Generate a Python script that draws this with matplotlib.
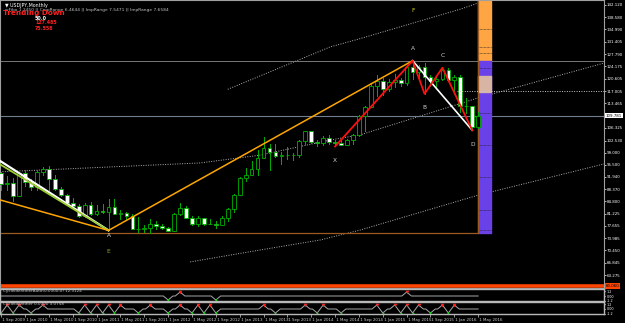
import matplotlib
matplotlib.use("Agg")
import matplotlib.pyplot as plt
import matplotlib.transforms as mtransforms
import numpy as np

# USDJPY monthly candles, 1 Sep 2009 .. 1 May 2016
opens = [93.0, 89.8, 90.1, 86.4, 93.0, 90.3, 88.9, 93.4, 94.1, 91.3, 88.4, 86.5,
         84.2, 83.5, 80.4, 83.7, 81.1, 82.1, 81.8, 83.1, 81.2, 81.5, 80.5, 76.7,
         76.6, 77.0, 78.2, 77.6, 76.9, 76.2, 81.2, 82.8, 80.0, 78.3, 79.8, 78.1,
         78.3, 77.9, 79.8, 82.5, 86.7, 91.7, 92.6, 94.2, 97.4, 100.5, 99.2, 97.9,
         98.2, 98.2, 98.4, 102.4, 105.3, 102.0, 101.8, 103.2, 102.2, 101.8, 101.3, 102.8,
         104.1, 109.7, 112.3, 118.6, 119.8, 117.5, 119.6, 120.1, 119.4, 124.1, 122.5, 123.9,
         121.2, 119.9, 120.6, 123.1, 120.2, 121.1, 112.7, 112.6, 106.5]
highs = [93.4, 92.3, 91.6, 93.1, 93.8, 91.3, 93.8, 94.8, 95.0, 92.4, 88.9, 86.9,
         85.9, 84.0, 84.4, 84.5, 83.7, 83.9, 85.5, 85.5, 82.2, 81.6, 81.0, 80.2,
         77.9, 79.5, 79.1, 78.3, 77.2, 81.3, 84.2, 83.3, 80.5, 80.6, 79.9, 79.7,
         78.9, 80.4, 82.8, 86.8, 91.8, 94.4, 96.7, 99.9, 103.7, 101.5, 101.5, 99.2,
         100.6, 99.0, 102.6, 105.4, 105.4, 102.8, 103.8, 104.1, 102.7, 102.8, 103.1, 104.5,
         110.1, 112.5, 119.0, 121.8, 120.8, 120.5, 122.0, 120.8, 124.5, 125.86, 124.6, 125.3,
         121.7, 121.5, 123.8, 123.7, 121.7, 121.7, 114.9, 112.7, 111.0]
lows = [88.2, 88.0, 84.8, 86.3, 89.2, 88.2, 88.1, 92.5, 88.0, 88.2, 86.3, 83.6,
        82.9, 80.2, 80.2, 80.9, 80.9, 81.5, 76.3, 81.1, 79.6, 79.7, 76.6, 75.9,
        75.9, 75.56, 76.7, 76.6, 76.0, 76.1, 80.9, 79.8, 78.0, 77.7, 77.9, 78.1,
        77.1, 77.8, 79.1, 81.7, 86.5, 90.8, 92.5, 92.6, 97.3, 93.8, 97.6, 95.8,
        97.1, 96.9, 97.6, 101.6, 101.8, 100.8, 101.2, 101.4, 100.8, 101.1, 101.1, 101.5,
        103.9, 105.2, 112.3, 115.6, 115.9, 116.9, 118.3, 118.5, 118.9, 120.4, 120.4, 116.2,
        118.6, 118.1, 120.3, 119.9, 116.0, 111.0, 110.7, 105.55, 106.3]
closes = [89.8, 90.1, 86.4, 93.0, 90.3, 88.9, 93.4, 94.1, 91.3, 88.4, 86.5, 84.2,
          83.5, 80.4, 83.7, 81.1, 82.1, 81.8, 83.1, 81.2, 81.5, 80.5, 76.7, 76.6,
          77.0, 78.2, 77.6, 76.9, 76.2, 81.2, 82.8, 80.0, 78.3, 79.8, 78.1, 78.3,
          77.9, 79.8, 82.5, 86.7, 91.7, 92.6, 94.2, 97.4, 100.5, 99.2, 97.9, 98.2,
          98.2, 98.4, 102.4, 105.3, 102.0, 101.8, 103.2, 102.2, 101.8, 101.3, 102.8, 104.1,
          109.7, 112.3, 118.6, 119.8, 117.5, 119.6, 120.1, 119.4, 124.1, 122.5, 123.9, 121.2,
          119.9, 120.6, 123.1, 120.2, 121.1, 112.7, 112.6, 106.5, 109.781]

date_labels = ["1 Sep 2009", "1 Jan 2010", "1 May 2010", "1 Sep 2010", "1 Jan 2011",
               "1 May 2011", "1 Sep 2011", "1 Jan 2012", "1 May 2012", "1 Sep 2012",
               "1 Jan 2013", "1 May 2013", "1 Sep 2013", "1 Jan 2014", "1 May 2014",
               "1 Sep 2014", "1 Jan 2015", "1 May 2015", "1 Sep 2015", "1 Jan 2016",
               "1 May 2016"]
date_pos = list(range(0, 81, 4))

price_ticks = [142.120, 138.580, 134.990, 131.405, 127.790, 124.175, 120.605, 117.005,
               113.465, 106.325, 102.530, 99.000, 95.500, 91.940, 88.370, 84.800,
               81.225, 77.655, 73.985, 70.450, 66.845, 63.275]
last_price = 109.781
line_price = 60.06

# XABCD pattern
pat_x = [56, 69, 71, 74, 79]
pat_y = [100.8, 125.86, 116.2, 123.8, 105.55]
pat_names = ["X", "A", "B", "C", "D"]

# swing line (orange) and down trendlines on the left
swing_x = [-0.2, 18, 69]
swing_y = [85.2, 76.3, 125.86]
trend_x = [-0.2, 18]
trend_white_y = [96.6, 76.3]
trend_lime_y = [95.6, 76.3]

# dotted channel curves
chan_top_x = [38.0, 55.2, 59.4, 77.0, 80.0, 84.0]
chan_top_y = [117.5, 129.9, 131.9, 140.9, 142.7, 144.5]
chan_mid_x = [-0.2, 33.4, 43.5, 55.2, 60.2, 80.0, 101.8]
chan_mid_y = [93.4, 96.0, 98.3, 102.7, 104.2, 115.0, 125.5]
chan_bot_x = [31.7, 43.5, 53.5, 60.2, 80.0, 101.8]
chan_bot_y = [67.1, 70.6, 73.5, 76.4, 86.6, 96.0]

# levels
top_level = 125.86
low_level = 75.56
mid_level = 117.0
zone_lo, zone_hi = 116.7, 121.4
bar_levels = [135.1, 129.9, 128.1, 123.7, 110.6, 101.2, 91.9, 82.3, 76.4]

# cycle identifier panels (month index of peaks / troughs)
cyc1_peaks = [30, 68]
cyc1_troughs = [28, 36]
cyc2_peaks = [1, 3, 7, 14, 16, 18, 20, 25, 30, 33, 35, 44, 51, 54, 63, 66, 68, 70, 74, 76]
cyc2_troughs = [0, 2, 5, 13, 15, 17, 19, 23, 28, 32, 34, 36, 46, 53, 57, 64, 67, 69, 72, 75]

W, H = 625, 323
fig = plt.figure(figsize=(6.25, 3.23), dpi=100, facecolor="black")


def box(x0, y0, x1, y1):
    return [x0 / W, 1 - y1 / H, (x1 - x0) / W, (y1 - y0) / H]


GREEN = "#00B000"
GRID = "#A0A0A0"
XL = (-0.2, 101.1)
RIGHT = 604

ax = fig.add_axes(box(0, 0, RIGHT, 288))
ax.set_facecolor("black")
ax.set_xlim(*XL)
ax.set_ylim(59.48, 143.58)

# channel curves
for cx, cy in [(chan_top_x, chan_top_y), (chan_mid_x, chan_mid_y), (chan_bot_x, chan_bot_y)]:
    ax.plot(cx, cy, color="#B0B0B0", lw=0.7, ls=(0, (1, 1.5)), zorder=1)

# horizontal levels
ax.axhline(top_level, color="#8A8A8A", lw=0.6, zorder=1)
ax.axhline(last_price, color="#6F7F90", lw=0.8, zorder=1)
ax.plot([76.5, XL[1]], [mid_level, mid_level], color="#C8C8C8", lw=0.7, ls=(0, (1, 1.5)), zorder=4)
ax.axhline(line_price, color="#FF4500", lw=2.6, zorder=2)
ax.plot([XL[0], 80.0, 80.0], [low_level, low_level, 143.58], color="#9A5A20", lw=0.9, zorder=2)

# PRZ bar
bx0, bx1 = 80.0, 82.2
ax.fill_between([bx0, bx1], top_level, 143.58, color="#FFA544", zorder=1.5)
ax.fill_between([bx0, bx1], low_level, top_level, color="#6A40E8", zorder=1.5)
ax.fill_between([bx0, bx1], zone_lo, zone_hi, color="#D8B4A4", zorder=1.6)
for lv in bar_levels:
    ax.plot([bx0, bx1], [lv, lv], color="#202020", lw=0.5, ls=(0, (1, 1)), zorder=1.7)

# candles
for i in range(len(opens)):
    o, h, l, c = opens[i], highs[i], lows[i], closes[i]
    ax.plot([i, i], [l, h], color=GREEN, lw=0.7, zorder=3)
    bottom = min(o, c)
    height = max(abs(c - o), 0.12)
    face = "black" if c >= o else "white"
    ax.bar(i, height, bottom=bottom, width=0.62, color=face, edgecolor=GREEN, linewidth=0.6, zorder=3.5)

# pattern lines
ax.plot(trend_x, trend_white_y, color="white", lw=1.6, zorder=5)
ax.plot(trend_x, trend_lime_y, color="#9ACD32", lw=1.3, zorder=5)
ax.plot(swing_x, swing_y, color="#FFA500", lw=1.1, zorder=5)
ax.plot(pat_x, pat_y, color="#FF1010", lw=1.3, zorder=6)
ax.plot([pat_x[1], pat_x[4]], [pat_y[1], pat_y[4]], color="white", lw=1.2, zorder=5.5)

lab_kw = dict(fontsize=4.2, ha="center", va="center", zorder=7)
offs = [-10, 9, -10, 9, -10]
for xv, yv, name, off in zip(pat_x, pat_y, pat_names, offs):
    ax.annotate(name, (xv, yv), xytext=(0, off), textcoords="offset points",
                color="#D0D0D0", **lab_kw)
ax.annotate("F", (pat_x[1], pat_y[1]), xytext=(0, 36), textcoords="offset points",
            color="#D8D820", **lab_kw)
ax.annotate("A", (swing_x[1], swing_y[1]), xytext=(0, -4), textcoords="offset points",
            color="#E0E0E0", **lab_kw)
ax.annotate("E", (swing_x[1], swing_y[1]), xytext=(0, -15), textcoords="offset points",
            color="#9AAA30", **lab_kw)

# right price axis
ax.yaxis.tick_right()
ax.set_yticks(price_ticks)
ax.set_yticklabels([f"{v:.3f}" for v in price_ticks])
ax.tick_params(axis="y", colors="white", labelsize=2.9, length=1.2, width=0.5, pad=0.8)
ax.set_xticks([])
for s in ax.spines.values():
    s.set_color(GRID)
    s.set_linewidth(0.8)
tr = mtransforms.blended_transform_factory(ax.transAxes, ax.transData)
ax.text(1.003, last_price, f"{last_price:.3f}", transform=tr, fontsize=2.9, color="black",
        va="center", ha="left", bbox=dict(boxstyle="square,pad=0.15", fc="white", ec="none"))
ax.text(1.003, line_price, "60.060", transform=tr, fontsize=2.9, color="black",
        va="center", ha="left", bbox=dict(boxstyle="square,pad=0.15", fc="#FF4500", ec="none"))

# header texts
fig.text(5 / W, 1 - 5 / H, "\u25bc USDJPY,Monthly", color="white", fontsize=3.4, va="center")
fig.text(5 / W, 1 - 10 / H, "wFibo 1.2450 || CmpRange 6.4644 || ImpRange 7.5471 || ImpRange 7.6584",
         color="#C0C0C0", fontsize=3.2, va="center")
fig.text(3 / W, 1 - 13 / H, "Trending Down", color="#FF2020", fontsize=5.2,
         fontweight="bold", va="center")
fig.text(35 / W, 1 - 18 / H, "50.0", color="white", fontsize=3.4, fontweight="bold", va="center")
fig.text(35 / W, 1 - 23 / H, "127.485", color="#FF2020", fontsize=3.4, fontweight="bold", va="center")
fig.text(35 / W, 1 - 28 / H, "75.558", color="#FF2020", fontsize=3.4, fontweight="bold", va="center")


def cycle_line(peaks, troughs, end):
    ev = sorted([(m, 1) for m in peaks] + [(m, -1) for m in troughs])
    xs, ys = [XL[0]], [0]
    for k, (m, v) in enumerate(ev):
        gl = m - ev[k - 1][0] if k else 1.6
        gr = ev[k + 1][0] - m if k < len(ev) - 1 else 1.6
        wl, wr = min(0.8, gl / 2), min(0.8, gr / 2)
        xs += [m - wl, m, m + wr]
        ys += [0, v, 0]
    xs.append(end)
    ys.append(0)
    return xs, ys


def cycle_panel(rect, peaks, troughs, title):
    p = fig.add_axes(rect)
    p.set_facecolor("black")
    p.set_xlim(*XL)
    p.set_ylim(-1.25, 1.75)
    xs, ys = cycle_line(peaks, troughs, 80)
    p.plot(xs, ys, color="#A8A8A8", lw=0.7)
    p.plot(peaks, [1.0] * len(peaks), ls="none", marker="v", ms=2.6, color="#FF2020", mew=0)
    p.plot(troughs, [-1.0] * len(troughs), ls="none", marker="^", ms=2.6, color="#00D000", mew=0)
    p.text(0.005, 0.82, title, transform=p.transAxes, fontsize=3.0, color="#C8C8C8", va="center")
    p.yaxis.tick_right()
    p.set_yticks([1.2, 0.0, -1.2])
    p.set_yticklabels(["1.2", "0.00", "-1.2"])
    p.tick_params(axis="y", colors="white", labelsize=2.4, length=1, pad=1)
    p.set_xticks([])
    for s in p.spines.values():
        s.set_color("#B8B8B8")
        s.set_linewidth(1.0)
    return p


cycle_panel(box(0, 289, RIGHT, 301), cyc1_peaks, cyc1_troughs,
            "CycleIdentifierAuto(0.0000,0) 12.3124")
p2 = cycle_panel(box(0, 302, RIGHT, 314), cyc2_peaks, cyc2_troughs,
                 "CycleIdentifier 0.0000 3.0758")
p2.set_xticks(date_pos)
p2.set_xticklabels([" " + d for d in date_labels], ha="left")
p2.tick_params(axis="x", colors="#D0D0D0", labelsize=2.9, length=2, width=0.5, pad=0.8)

fig.savefig("out.png", dpi=100, facecolor="black")
